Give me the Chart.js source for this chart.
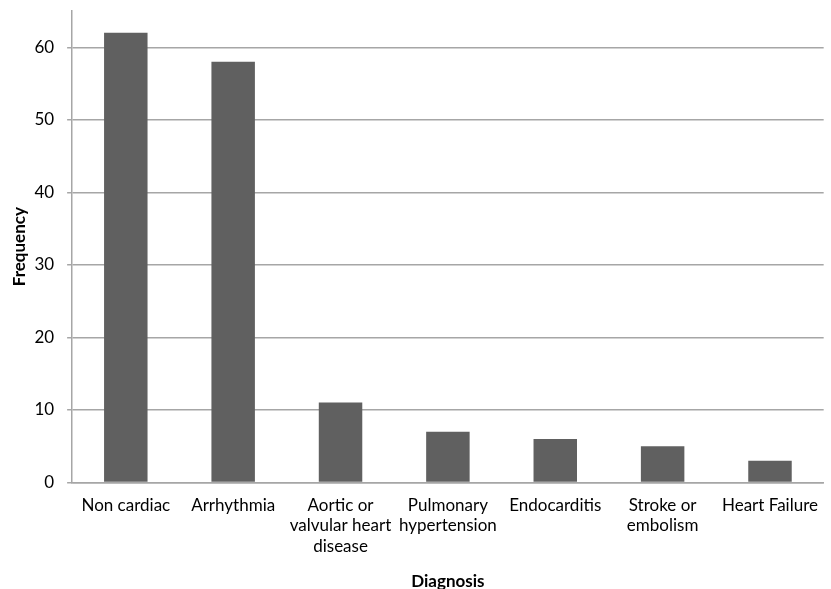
<!DOCTYPE html>
<html>
<head>
<meta charset="utf-8">
<style>
  html, body { margin: 0; padding: 0; background: #ffffff; }
  #wrap { width: 831px; height: 589px; position: relative; }
</style>
<script src="https://cdn.jsdelivr.net/npm/chart.js@4"></script>
</head>
<body>
<div id="wrap"><canvas id="chart" width="831" height="589"></canvas></div>
<script>
// Diagnosis categories and their frequencies
const categories = [
  'Non cardiac',
  'Arrhythmia',
  ['Aortic or', 'valvular heart', 'disease'],
  ['Pulmonary', 'hypertension'],
  'Endocarditis',
  ['Stroke or', 'embolism'],
  'Heart Failure'
];
const frequency = [62, 58, 11, 7, 6, 5, 3];
const yTicks = [0, 10, 20, 30, 40, 50, 60];

const FONT = "Lato, 'Open Sans', 'Liberation Sans', sans-serif";
const GRID = '#a6a6a6';

new Chart(document.getElementById('chart'), {
  type: 'bar',
  data: {
    labels: categories,
    datasets: [{
      label: 'Frequency',
      data: frequency,
      backgroundColor: '#606060',
      borderWidth: 0,
      categoryPercentage: 1,
      barPercentage: 0.405
    }]
  },
  options: {
    responsive: false,
    animation: false,
    layout: { padding: { left: 9, right: 0, top: 11, bottom: -3 } },
    plugins: {
      legend: { display: false },
      tooltip: { enabled: false }
    },
    scales: {
      x: {
        grid: { display: false, drawTicks: false },
        border: { display: true, color: GRID, width: 1.5 },
        ticks: {
          color: '#000',
          font: { family: FONT, size: 17, lineHeight: 1.2 },
          padding: 13,
          maxRotation: 0,
          autoSkip: false
        },
        title: {
          display: true,
          text: 'Diagnosis',
          color: '#000',
          font: { family: FONT, size: 17, weight: 'bold', lineHeight: 1.2 },
          padding: { top: 2, bottom: 0 }
        }
      },
      y: {
        min: 0,
        max: 65,
        afterBuildTicks: axis => {
          axis.ticks = yTicks.map(v => ({ value: v }));
        },
        // no tick sits at the top, so no extra room is needed above the plot
        afterFit: axis => { axis.paddingTop = 0; },
        grid: { color: GRID, lineWidth: 1.5, drawTicks: true, tickLength: 5 },
        border: { display: true, color: GRID, width: 1.5 },
        ticks: {
          color: '#000',
          font: { family: FONT, size: 17 },
          padding: 13
        },
        title: {
          display: true,
          text: 'Frequency',
          color: '#000',
          font: { family: FONT, size: 17, weight: 'bold', lineHeight: 1.2 },
          padding: { top: 0, bottom: -8 }
        }
      }
    }
  }
});
</script>
</body>
</html>
